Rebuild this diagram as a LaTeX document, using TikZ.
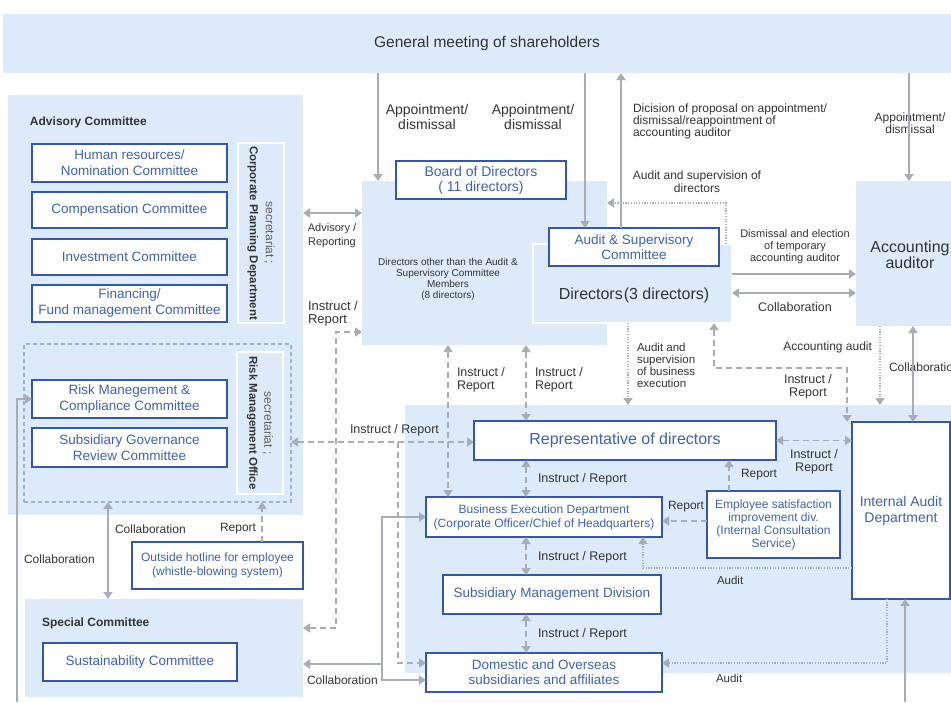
\documentclass[tikz,border=0pt]{standalone}
\usepackage{fontspec}
\setmainfont{Liberation Sans}
\usetikzlibrary{arrows.meta}
\definecolor{panel}{RGB}{221,234,250}
\definecolor{boxblue}{RGB}{52,88,166}
\definecolor{txtblue}{RGB}{62,98,176}
\definecolor{labelc}{RGB}{51,51,51}
\definecolor{secgray}{RGB}{95,95,95}
\definecolor{arrc}{RGB}{168,172,180}
\definecolor{grpdash}{RGB}{160,178,205}
\newcommand\fsz[2]{\fontsize{#1}{#2}\selectfont}
\newcommand\mkbox[7]{\node[#6,minimum width={(#4)-(#2)},minimum height={(#5)-(#3)}] (#1) at ({((#2)+(#4))/2},{((#3)+(#5))/2}) {#7};}
\begin{document}
\begin{tikzpicture}[x=1pt,y=-1pt,
  >={Triangle[width=9pt,length=7pt]},
  pnl/.style={fill=panel,draw=none,inner sep=0pt,outer sep=0pt},
  wpnl/.style={fill=panel,draw=white,line width=2pt,inner sep=0pt,outer sep=0pt},
  bbox/.style={fill=white,draw=boxblue,line width=1.8pt,text=txtblue,align=center,inner sep=0pt,outer sep=0pt},
  grp/.style={draw=grpdash,line width=1.2pt,dash pattern=on 4pt off 3pt,fill=none,inner sep=0pt,outer sep=0pt},
  lbl/.style={text=labelc,inner sep=0pt,outer sep=0pt,align=center},
  sol/.style={draw=arrc,line width=2pt},
  dsh/.style={draw=arrc,line width=1.6pt,dash pattern=on 6pt off 4pt},
  dotl/.style={draw=arrc,line width=1.5pt,dash pattern=on 1.2pt off 1.5pt},
]
\useasboundingbox (0,0) rectangle (951,702);
\fill[white] (0,0) rectangle (951,702);

% named coordinates
\foreach \v in {17,108,262,336,378,382,398,448,526,585,621,628,643,714,726,729,847,880,887,905,909,913}{\coordinate (x\v) at (\v,0);}
\foreach \v in {203,213,274,293,332,368,442,521,568,628,663,664,680,702}{\coordinate (y\v) at (0,\v);}

% panels
\mkbox{gm}{3}{14}{971}{73}{pnl}{}
\mkbox{adv}{8}{95}{303}{515}{pnl}{}
\mkbox{spec}{25}{599}{303}{697}{pnl}{}
\mkbox{boardp}{362}{181}{607}{345}{pnl}{}
\mkbox{dirp}{533}{244}{732}{323}{wpnl}{}
\mkbox{acc}{856}{181}{966}{326}{pnl}{}
\mkbox{lowp}{405}{405}{966}{673}{pnl}{}

% advisory committee
\mkbox{hr}{32}{144}{227}{182}{bbox,font=\fsz{13.5}{16}}{Human resources/\\Nomination Committee}
\mkbox{comp}{32}{192}{227}{228}{bbox,font=\fsz{13.5}{16}}{Compensation Committee}
\mkbox{inv}{32}{239}{227}{275}{bbox,font=\fsz{13.5}{16}}{Investment Committee}
\mkbox{fin}{32}{285}{227}{322}{bbox,font=\fsz{13.5}{16}}{Financing/\\Fund management Committee}
\mkbox{sec1}{238}{143}{284}{323}{wpnl}{}
\node[lbl,rotate=-90,font=\fsz{12}{16}] (sec1t) at (sec1.center) {{\color{secgray}secretariat ;}\\{\bfseries\fsz{11.5}{16}Corporate Planning Department}};

\mkbox{riskgrp}{24}{344}{291}{502}{grp}{}
\mkbox{risk}{32}{380}{227}{418}{bbox,font=\fsz{13.5}{16}}{Risk Manegement \&\\Compliance Committee}
\mkbox{subgov}{32}{428}{227}{467}{bbox,font=\fsz{13.5}{16}}{Subsidiary Governance\\Review Committee}
\mkbox{sec2}{237}{352}{283}{494}{wpnl}{}
\node[lbl,rotate=-90,font=\fsz{12}{15}] (sec2t) at (sec2.center) {{\color{secgray}secretariat ;}\\{\bfseries\fsz{11.5}{15}Risk Management Office}};

\mkbox{hotline}{132}{542}{303}{589}{bbox,font=\fsz{12}{14}}{Outside hotline for employee\\(whistle-blowing system)}
\mkbox{sust}{43}{643}{237}{681}{bbox,font=\fsz{13.5}{16}}{Sustainability Committee}

% board
\mkbox{bod}{396}{161}{566}{199}{bbox,font=\fsz{14}{15}}{Board of Directors\\( 11 directors)}
\mkbox{asc}{549}{228}{719}{266}{bbox,font=\fsz{13.5}{15}}{Audit \& Supervisory\\Committee}

% execution
\mkbox{rep}{474}{421}{776}{460}{bbox,font=\fsz{16}{18}}{Representative of directors}
\mkbox{iad}{852}{422}{950}{599}{bbox,font=\fsz{14}{16}}{Internal Audit\\Department}
\mkbox{esat}{707}{491}{840}{558}{bbox,font=\fsz{12}{13}}{Employee satisfaction\\improvement div.\\(Internal Consultation\\Service)}
\mkbox{bed}{426}{497}{662}{537}{bbox,font=\fsz{12}{14}}{Business Execution Department\\(Corporate Officer/Chief of Headquarters)}
\mkbox{smd}{443}{575}{661}{614}{bbox,font=\fsz{13.5}{16}}{Subsidiary Management Division}
\mkbox{dom}{426}{653}{662}{692}{bbox,font=\fsz{13.5}{15}}{Domestic and Overseas\\subsidiaries and affiliates}

% labels
\node[lbl,font=\fsz{15.5}{17}] (tgm) at (487,43) {General meeting of shareholders};
\node[lbl,font=\bfseries\fsz{12}{14},anchor=west] (ladvc) at (30,122) {Advisory Committee};
\node[lbl,font=\bfseries\fsz{12}{14},anchor=west] (lspc) at (42,623) {Special Committee};
\node[lbl,font=\fsz{14}{14.5}] (lap1) at (427,117) {Appointment/\\dismissal};
\node[lbl,font=\fsz{14}{14.5}] (lap2) at (533,117) {Appointment/\\dismissal};
\node[lbl,font=\fsz{12}{11.8},anchor=west,align=left] (ldic) at (633,121.5) {Dicision of proposal on appointment/\\dismissal/reappointment of\\accounting auditor};
\node[lbl,font=\fsz{12}{12.5}] (lap3) at (910,123) {Appointment/\\dismissal};
\node[lbl,font=\fsz{11}{14}] (ladv) at (332,236) {Advisory /\\Reporting};
\node[lbl,font=\fsz{13}{13},anchor=west,align=left] (lir1) at (308,313.5) {Instruct /\\Report};
\node[lbl,font=\fsz{10}{11}] (ldo) at (448,279.5) {Directors other than the Audit \&\\Supervisory Committee\\Members\\(8 directors)};
\node[lbl,font=\fsz{12}{13}] (lasd) at (697,181.5) {Audit and supervision of\\directors};
\node[lbl,font=\fsz{11}{12}] (ldis) at (795,247) {Dismissal and election\\of temporary\\accounting auditor};
\node[lbl,font=\fsz{12.5}{14}] (lcol1) at (795,307) {Collaboration};
\node[lbl,font=\fsz{11.5}{12},anchor=west,align=left] (lasb) at (637,365) {Audit and\\supervision\\of business\\execution};
\node[lbl,font=\fsz{12}{13},anchor=east] (laca) at (872,347) {Accounting audit};
\node[lbl,font=\fsz{12.5}{13}] (lir2) at (808,386.5) {Instruct /\\Report};
\node[lbl,font=\fsz{12}{13},anchor=west] (lcol2) at (889,367) {Collaboration};
\node[lbl,font=\fsz{16}{16.5}] (lacc) at (910,255) {Accounting\\auditor};
\node[lbl,font=\fsz{16}{18}] (ldir3) at (634,295) {Directors\kern1pt(3 directors)};
\node[lbl,font=\fsz{12.5}{13},anchor=west,align=left] (lir3) at (457,379.5) {Instruct /\\Report};
\node[lbl,font=\fsz{12.5}{13},anchor=west,align=left] (lir4) at (535,379.5) {Instruct /\\Report};
\node[lbl,font=\fsz{12.5}{13},anchor=west] (lir5) at (350,430) {Instruct / Report};
\node[lbl,font=\fsz{12.5}{13},anchor=west] (lir6) at (538,479) {Instruct / Report};
\node[lbl,font=\fsz{12.5}{13},anchor=west] (lir7) at (538,557) {Instruct / Report};
\node[lbl,font=\fsz{12.5}{13},anchor=west] (lir8) at (538,634) {Instruct / Report};
\node[lbl,font=\fsz{12}{13},anchor=west] (lrep1) at (668,507) {Report};
\node[lbl,font=\fsz{12}{13},anchor=west] (lrep2) at (741,475) {Report};
\node[lbl,font=\fsz{12.5}{12.5}] (lir9) at (814,462) {Instruct /\\Report};
\node[lbl,font=\fsz{11.5}{13},anchor=west] (laud1) at (717,580) {Audit};
\node[lbl,font=\fsz{11.5}{13},anchor=west] (laud2) at (716,678) {Audit};
\node[lbl,font=\fsz{12}{13},anchor=west] (lcol3) at (115,529) {Collaboration};
\node[lbl,font=\fsz{12}{13},anchor=west] (lcol4) at (24,559) {Collaboration};
\node[lbl,font=\fsz{12}{13},anchor=west] (lcol5) at (307,680) {Collaboration};
\node[lbl,font=\fsz{12}{13},anchor=west] (lrep3) at (220,529) {Report};

% solid connectors
\draw[sol,->] (gm.south -| x378) -- (boardp.north -| x378);
\draw[sol,->] (gm.south -| x585) -- (asc.north -| x585);
\draw[sol,->] (asc.north -| x621) -- (gm.south -| x621);
\draw[sol,->] (gm.south -| x909) -- (acc.north -| x909);
\draw[sol,<->] (adv.east |- y213) -- (boardp.west |- y213);
\draw[sol,->] (dirp.east |- y274) -- (acc.west |- y274);
\draw[sol,<->] (dirp.east |- y293) -- (acc.west |- y293);
\draw[sol,<->] (acc.south -| x913) -- (iad.north -| x913);
\draw[sol,<->] (riskgrp.south -| x108) -- (spec.north -| x108);
\draw[sol,->] (x17 |- y702) -- (x17 |- risk.west) -- (risk.west);
\draw[sol,->] (x905 |- y702) -- (iad.south -| x905);
\draw[sol,<->] (bed.west) -- (x382 |- bed.west) -- (x382 |- y680) -- (dom.west |- y680);
\draw[sol,->] (x382 |- y664) -- (spec.east |- y664);

% dashed connectors
\draw[dsh,<->] (spec.east |- y628) -- (x336 |- y628) -- (x336 |- y332) -- (boardp.west |- y332);
\draw[dsh,<->] (riskgrp.east |- y442) -- (rep.west |- y442);
\draw[dsh,->] (x398 |- y442) -- (x398 |- y663) -- (dom.west |- y663);
\draw[dsh,<->] (boardp.south -| x448) -- (bed.north -| x448);
\draw[dsh,<->] (boardp.south -| x526) -- (rep.north -| x526);
\draw[dsh,<->] (rep.south -| x526) -- (bed.north -| x526);
\draw[dsh,<->] (bed.south -| x526) -- (smd.north -| x526);
\draw[dsh,<->] (smd.south -| x526) -- (dom.north -| x526);
\draw[dsh,->] (esat.west |- y521) -- (bed.east |- y521);
\draw[dsh,->] (esat.north -| x729) -- (rep.south -| x729);
\draw[dsh,<->] (rep.east) -- (iad.west |- rep.east);
\draw[dsh,<->] (dirp.south -| x714) -- (x714 |- y368) -- (x847 |- y368) -- (iad.north -| x847);
\draw[dsh,->] (hotline.north -| x262) -- (riskgrp.south -| x262);

% dotted connectors
\draw[dotl,->] (dirp.north -| x726) -- (x726 |- y203) -- (boardp.east |- y203);
\draw[dotl,->] (dirp.south -| x628) -- (lowp.north -| x628);
\draw[dotl,->] (acc.south -| x880) -- (lowp.north -| x880);
\draw[dotl,->] (iad.west |- y568) -- (x643 |- y568) -- (bed.south -| x643);
\draw[dotl,->] (iad.south -| x887) -- (x887 |- y663) -- (dom.east |- y663);
\end{tikzpicture}
\end{document}
